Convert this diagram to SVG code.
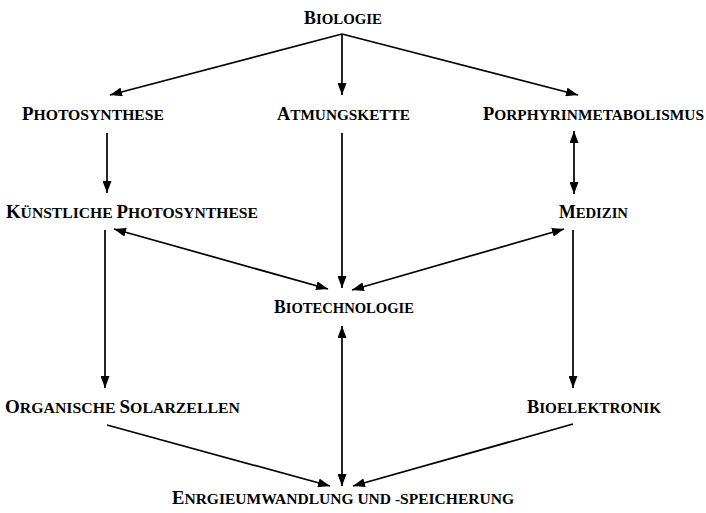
<svg xmlns="http://www.w3.org/2000/svg" width="706" height="513" viewBox="0 0 706 513">
<style>
text{font-family:"Liberation Serif","Times New Roman",serif;font-weight:bold;fill:#000;}
.c{font-size:18px;}
.s{font-size:15px;}
.e{stroke:#000;stroke-width:1.7;fill:none;}
.u{marker-end:url(#ah);}
.b{marker-start:url(#ah);marker-end:url(#ah);}
</style>
<defs>
<marker id="ah" viewBox="0 0 12 9" refX="12" refY="4.5" markerWidth="12" markerHeight="9" markerUnits="userSpaceOnUse" orient="auto-start-reverse">
<path d="M0,0 L12,4.5 L0,9 z" fill="#000"/>
</marker>
</defs>
<rect width="706" height="513" fill="#fff"/>
<g id="connectors">
<path class="e u" d="M342,34 L110,95"/>
<path class="e u" d="M342,34 L342,95"/>
<path class="e u" d="M342,34 L578,95"/>
<path class="e u" d="M107,133 L107,193"/>
<path class="e u" d="M342,133 L342,288"/>
<path class="e b" d="M574,131 L574,194"/>
<path class="e b" d="M114,229 L328,289"/>
<path class="e b" d="M564,229 L352,290"/>
<path class="e u" d="M105,230 L105,388"/>
<path class="e u" d="M573,230 L573,388"/>
<path class="e b" d="M342,326 L342,486"/>
<path class="e u" d="M107,425 L330,486"/>
<path class="e u" d="M573,424 L353,486"/>
</g>
<g id="biologie"><text x="304" y="24" textLength="78" lengthAdjust="spacingAndGlyphs"><tspan class="c">B</tspan><tspan class="s">IOLOGIE</tspan></text></g>
<g id="photosynthese"><text x="22" y="120" textLength="142" lengthAdjust="spacingAndGlyphs"><tspan class="c">P</tspan><tspan class="s">HOTOSYNTHESE</tspan></text></g>
<g id="atmungskette"><text x="277" y="120" textLength="133" lengthAdjust="spacingAndGlyphs"><tspan class="c">A</tspan><tspan class="s">TMUNGSKETTE</tspan></text></g>
<g id="porphyrin"><text x="483" y="120" textLength="221" lengthAdjust="spacingAndGlyphs"><tspan class="c">P</tspan><tspan class="s">ORPHYRINMETABOLISMUS</tspan></text></g>
<g id="kuenstliche"><text x="6" y="218" textLength="252" lengthAdjust="spacingAndGlyphs"><tspan class="c">K</tspan><tspan class="s">ÜNSTLICHE </tspan><tspan class="c">P</tspan><tspan class="s">HOTOSYNTHESE</tspan></text></g>
<g id="medizin"><text x="559" y="218" textLength="69" lengthAdjust="spacingAndGlyphs"><tspan class="c">M</tspan><tspan class="s">EDIZIN</tspan></text></g>
<g id="biotechnologie"><text x="274" y="313" textLength="140" lengthAdjust="spacingAndGlyphs"><tspan class="c">B</tspan><tspan class="s">IOTECHNOLOGIE</tspan></text></g>
<g id="organische"><text x="5" y="413" textLength="235" lengthAdjust="spacingAndGlyphs"><tspan class="c">O</tspan><tspan class="s">RGANISCHE </tspan><tspan class="c">S</tspan><tspan class="s">OLARZELLEN</tspan></text></g>
<g id="bioelektronik"><text x="527" y="413" textLength="134" lengthAdjust="spacingAndGlyphs"><tspan class="c">B</tspan><tspan class="s">IOELEKTRONIK</tspan></text></g>
<g id="energie"><text x="172" y="504" textLength="342" lengthAdjust="spacingAndGlyphs"><tspan class="c">E</tspan><tspan class="s">NRGIEUMWANDLUNG UND -SPEICHERUNG</tspan></text></g>
</svg>
